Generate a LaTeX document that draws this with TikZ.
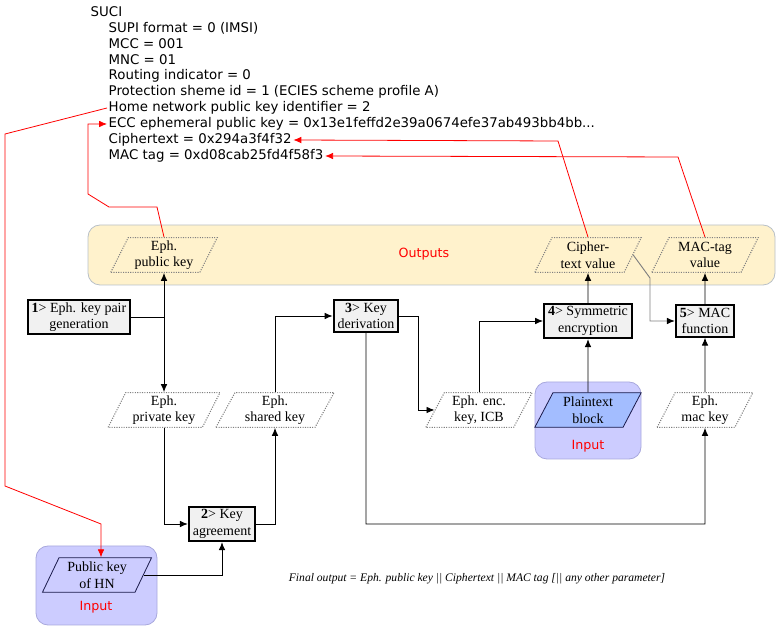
\documentclass[tikz,border=0pt]{standalone}
\usepackage{fontspec}
\setmainfont{Liberation Serif}
\newfontfamily\verdana{DejaVu Sans}
\usepackage{tikz}
\usetikzlibrary{arrows.meta,shapes.geometric}

\definecolor{outfill}{HTML}{FFF2CC}
\definecolor{outedge}{HTML}{B8C0C8}
\definecolor{infill}{HTML}{CCCCFF}
\definecolor{inedge}{HTML}{A8A8DD}
\definecolor{plainfill}{HTML}{A3BDFF}
\definecolor{navy}{HTML}{1A1A4A}

\begin{document}
\begin{tikzpicture}[x=0.75pt,y=-0.75pt,>={Latex[length=6pt,width=5pt]},semithick]
\tikzstyle{proc} = [draw=black,line width=1.5pt,fill={rgb:black,1;white,17},align=center,inner xsep=3pt,inner ysep=2pt,font=\fontsize{10.5}{12.5}\selectfont]
\tikzstyle{para} = [trapezium,trapezium left angle=65,trapezium right angle=115,trapezium stretches=true,draw=gray,densely dotted,thick,align=center,minimum height=26pt,minimum width=80pt,inner sep=1pt,font=\fontsize{10.5}{12.5}\selectfont]
\tikzstyle{inpara} = [para,solid,semithick,draw=navy]
\tikzstyle{zone} = [rounded corners=9pt,semithick]
\tikzstyle{suciline} = [anchor=west,inner sep=1pt,font=\verdana\fontsize{10}{12}\selectfont]
\tikzstyle{zonelabel} = [red,font=\verdana\fontsize{9.5}{11}\selectfont]
\tikzset{flow/.style={->,line width=0.7pt}}
\tikzset{redline/.style={->,red,line width=0.6pt}}
\useasboundingbox (0,0) rectangle (779,630);

    % SUCI fields
    \node[suciline] (suci) at (89,12) {SUCI};
    \node[suciline] (fmt) at (107,28) {SUPI format = 0 (IMSI)};
    \node[suciline] (mcc) at (107,44) {MCC = 001};
    \node[suciline] (mnc) at (107,60) {MNC = 01};
    \node[suciline] (rind) at (107,76) {Routing indicator = 0};
    \node[suciline] (pid) at (107,92) {Protection sheme id = 1 (ECIES scheme profile A)};
    \node[suciline] (hnkey) at (107,108) {Home network public key identifier = 2};
    \node[suciline] (ecc) at (107,124) {ECC ephemeral public key = 0x13e1feffd2e39a0674efe37ab493bb4bb...};
    \node[suciline] (ctext) at (107,140) {Ciphertext = 0x294a3f4f32};
    \node[suciline] (mtag) at (107,156) {MAC tag = 0xd08cab25fd4f58f3};

    % grouping areas
    \draw[zone,draw=outedge,fill=outfill] (88,225) rectangle (775,285);
    \draw[zone,draw=inedge,fill=infill] (535,382) rectangle (641,459);
    \draw[zone,draw=inedge,fill=infill] (36,546) rectangle (157,625);
    \node[zonelabel] (outlbl) at (424,254) {Outputs};
    \node[zonelabel] (inlbl1) at (588,446) {Input};
    \node[zonelabel] (inlbl2) at (96,607) {Input};

    % outputs
    \node[para] (pub) at (164,255) {Eph.\\public key};
    \node[para] (ctval) at (588,255) {Cipher-\\text value};
    \node[para] (mtval) at (705,255) {MAC-tag\\value};

    % steps
    \node[proc] (gen) at (79,317) {\textbf{1}> Eph. key pair\\generation};
    \node[proc] (deriv) at (366,316) {\textbf{3}> Key\\derivation};
    \node[proc] (symenc) at (588,321) {\textbf{4}> Symmetric\\encryption};
    \node[proc] (macfn) at (705,321) {\textbf{5}> MAC\\function};
    \node[proc] (agree) at (222,524) {\textbf{2}> Key\\agreement};

    % intermediate values and inputs
    \node[para,minimum width=84pt] (priv) at (164,410) {Eph.\\private key};
    \node[para,minimum width=89pt] (shared) at (275,410) {Eph.\\shared key};
    \node[para] (enckey) at (479,410) {Eph. enc.\\key, ICB};
    \node[inpara,fill=plainfill] (plain) at (588,410) {Plaintext\\block};
    \node[para,minimum width=72pt] (mackey) at (705,410) {Eph.\\mac key};
    \node[inpara,minimum width=82pt] (pkhn) at (97,575) {Public key\\of HN};

    \node[font=\itshape\fontsize{8.7}{10}\selectfont] (final) at (477,579) {Final output = Eph. public key || Ciphertext || MAC tag [|| any other parameter]};

    % data flow
    \draw[flow] (gen) -| (pub);
    \draw[flow] (gen) -| (priv);
    \draw[flow] (priv) |- (agree);
    \draw[flow] (pkhn) -| (agree);
    \draw[flow] (agree) -| (shared);
    \draw[flow] (shared) |- (deriv);
    \draw[flow] (deriv.east) -- (418,316) |- (enckey);
    \draw[flow] (deriv) |- (mackey |- agree) -- (mackey);
    \draw[flow] (enckey) |- (symenc);
    \draw[flow] (plain) -- (symenc);
    \draw[flow] (symenc) -- (ctval);
    \draw[flow,draw=gray,-{Latex[length=6pt,width=5pt,color=black]}] (ctval.east) -- (650,278) |- (macfn);
    \draw[flow] (mackey) -- (macfn);
    \draw[flow] (macfn) -- (mtval);

    % mapping to SUCI fields
    \coordinate (hnbend) at (101,524);
    \draw[redline] (hnkey.west) -- (5,134) -- (5,486) -- (hnbend) -- (hnbend |- pkhn.north);
    \draw[redline] (pub.north) -- (157,207) -- (109,207) -- (88,194) |- (ecc.west);
    \draw[redline] (ctval.north) -- (558,141) -- (ctext.east);
    \draw[redline] (mtval.north) -- (678,157) -- (mtag.east);
\end{tikzpicture}
\end{document}
